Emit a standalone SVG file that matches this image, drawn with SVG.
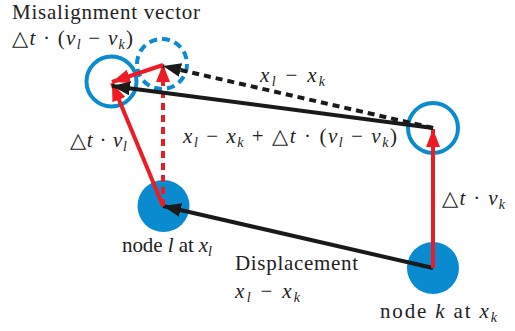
<svg xmlns="http://www.w3.org/2000/svg" width="515" height="331" viewBox="0 0 515 331">
<style>
text{font-family:"Liberation Serif","DejaVu Serif",serif;font-size:21px;fill:#222}
.i{font-style:italic}
.s{font-size:14px;font-style:italic}
.blk{stroke:#1a1a1a;stroke-width:4;fill:none}
.red{stroke:#ed1c24;stroke-width:4;fill:none}
.dash{stroke-dasharray:7 5}
.ring{fill:none;stroke:#0a8bd0;stroke-width:4}
.dot{fill:#0a8bd0}
</style>
<defs>
<marker id="ab" markerUnits="userSpaceOnUse" markerWidth="20" markerHeight="16" refX="18" refY="8" orient="auto" viewBox="0 0 20 16"><path d="M0,1 L18,8 L0,15 Z" fill="#1a1a1a"/></marker>
<marker id="ar" markerUnits="userSpaceOnUse" markerWidth="20" markerHeight="16" refX="18" refY="8" orient="auto" viewBox="0 0 20 16"><path d="M0,1 L18,8 L0,15 Z" fill="#ed1c24"/></marker>
</defs>
<g id="node-l"><circle class="dot" cx="163.5" cy="206" r="26"/></g>
<g id="node-k"><circle class="dot" cx="433" cy="268" r="26"/></g>
<g id="node-l-moved"><circle class="ring" cx="111.5" cy="81.5" r="25"/></g>
<g id="node-k-moved"><circle class="ring" cx="433" cy="128" r="25"/></g>
<g id="node-l-expected"><circle class="ring" cx="162" cy="64" r="25" stroke-dasharray="8 5"/></g>
<g id="connectors">
<line class="blk" x1="433" y1="268" x2="163" y2="206" marker-end="url(#ab)"/>
<line class="red" x1="433" y1="268" x2="433" y2="129" marker-end="url(#ar)"/>
<line class="red" x1="163" y1="206" x2="112" y2="83" marker-end="url(#ar)"/>
<line class="red dash" x1="163" y1="206" x2="163" y2="64" marker-end="url(#ar)"/>
<line class="red" x1="163" y1="65" x2="112" y2="82" marker-end="url(#ar)"/>
<line class="blk dash" x1="433" y1="128" x2="163" y2="66" marker-end="url(#ab)"/>
<line class="blk" x1="433" y1="128" x2="112" y2="86" marker-end="url(#ab)"/>
</g>
<g id="labels">
<text x="12" y="19" textLength="188">Misalignment vector</text>
<text x="12" y="45" textLength="121">△<tspan class="i">t</tspan> · (<tspan class="i">v</tspan><tspan class="s" dy="4">l</tspan><tspan dy="-4"> − </tspan><tspan class="i">v</tspan><tspan class="s" dy="4">k</tspan><tspan dy="-4">)</tspan></text>
<text x="260" y="82" textLength="65"><tspan class="i">x</tspan><tspan class="s" dy="4">l</tspan><tspan dy="-4"> − </tspan><tspan class="i">x</tspan><tspan class="s" dy="4">k</tspan></text>
<text x="183" y="143" textLength="214"><tspan class="i">x</tspan><tspan class="s" dy="4">l</tspan><tspan dy="-4"> − </tspan><tspan class="i">x</tspan><tspan class="s" dy="4">k</tspan><tspan dy="-4"> + △</tspan><tspan class="i">t</tspan> · (<tspan class="i">v</tspan><tspan class="s" dy="4">l</tspan><tspan dy="-4"> − </tspan><tspan class="i">v</tspan><tspan class="s" dy="4">k</tspan><tspan dy="-4">)</tspan></text>
<text x="70" y="147" textLength="57">△<tspan class="i">t</tspan> · <tspan class="i">v</tspan><tspan class="s" dy="4">l</tspan></text>
<text x="442" y="205" textLength="63">△<tspan class="i">t</tspan> · <tspan class="i">v</tspan><tspan class="s" dy="4">k</tspan></text>
<text x="122" y="252" textLength="90">node <tspan class="i">l</tspan> at <tspan class="i">x</tspan><tspan class="s" dy="4">l</tspan></text>
<text x="235" y="270" textLength="123">Displacement</text>
<text x="235" y="298" textLength="65"><tspan class="i">x</tspan><tspan class="s" dy="4">l</tspan><tspan dy="-4"> − </tspan><tspan class="i">x</tspan><tspan class="s" dy="4">k</tspan></text>
<text x="380" y="318" textLength="117">node <tspan class="i">k</tspan> at <tspan class="i">x</tspan><tspan class="s" dy="4">k</tspan></text>
</g>
</svg>
